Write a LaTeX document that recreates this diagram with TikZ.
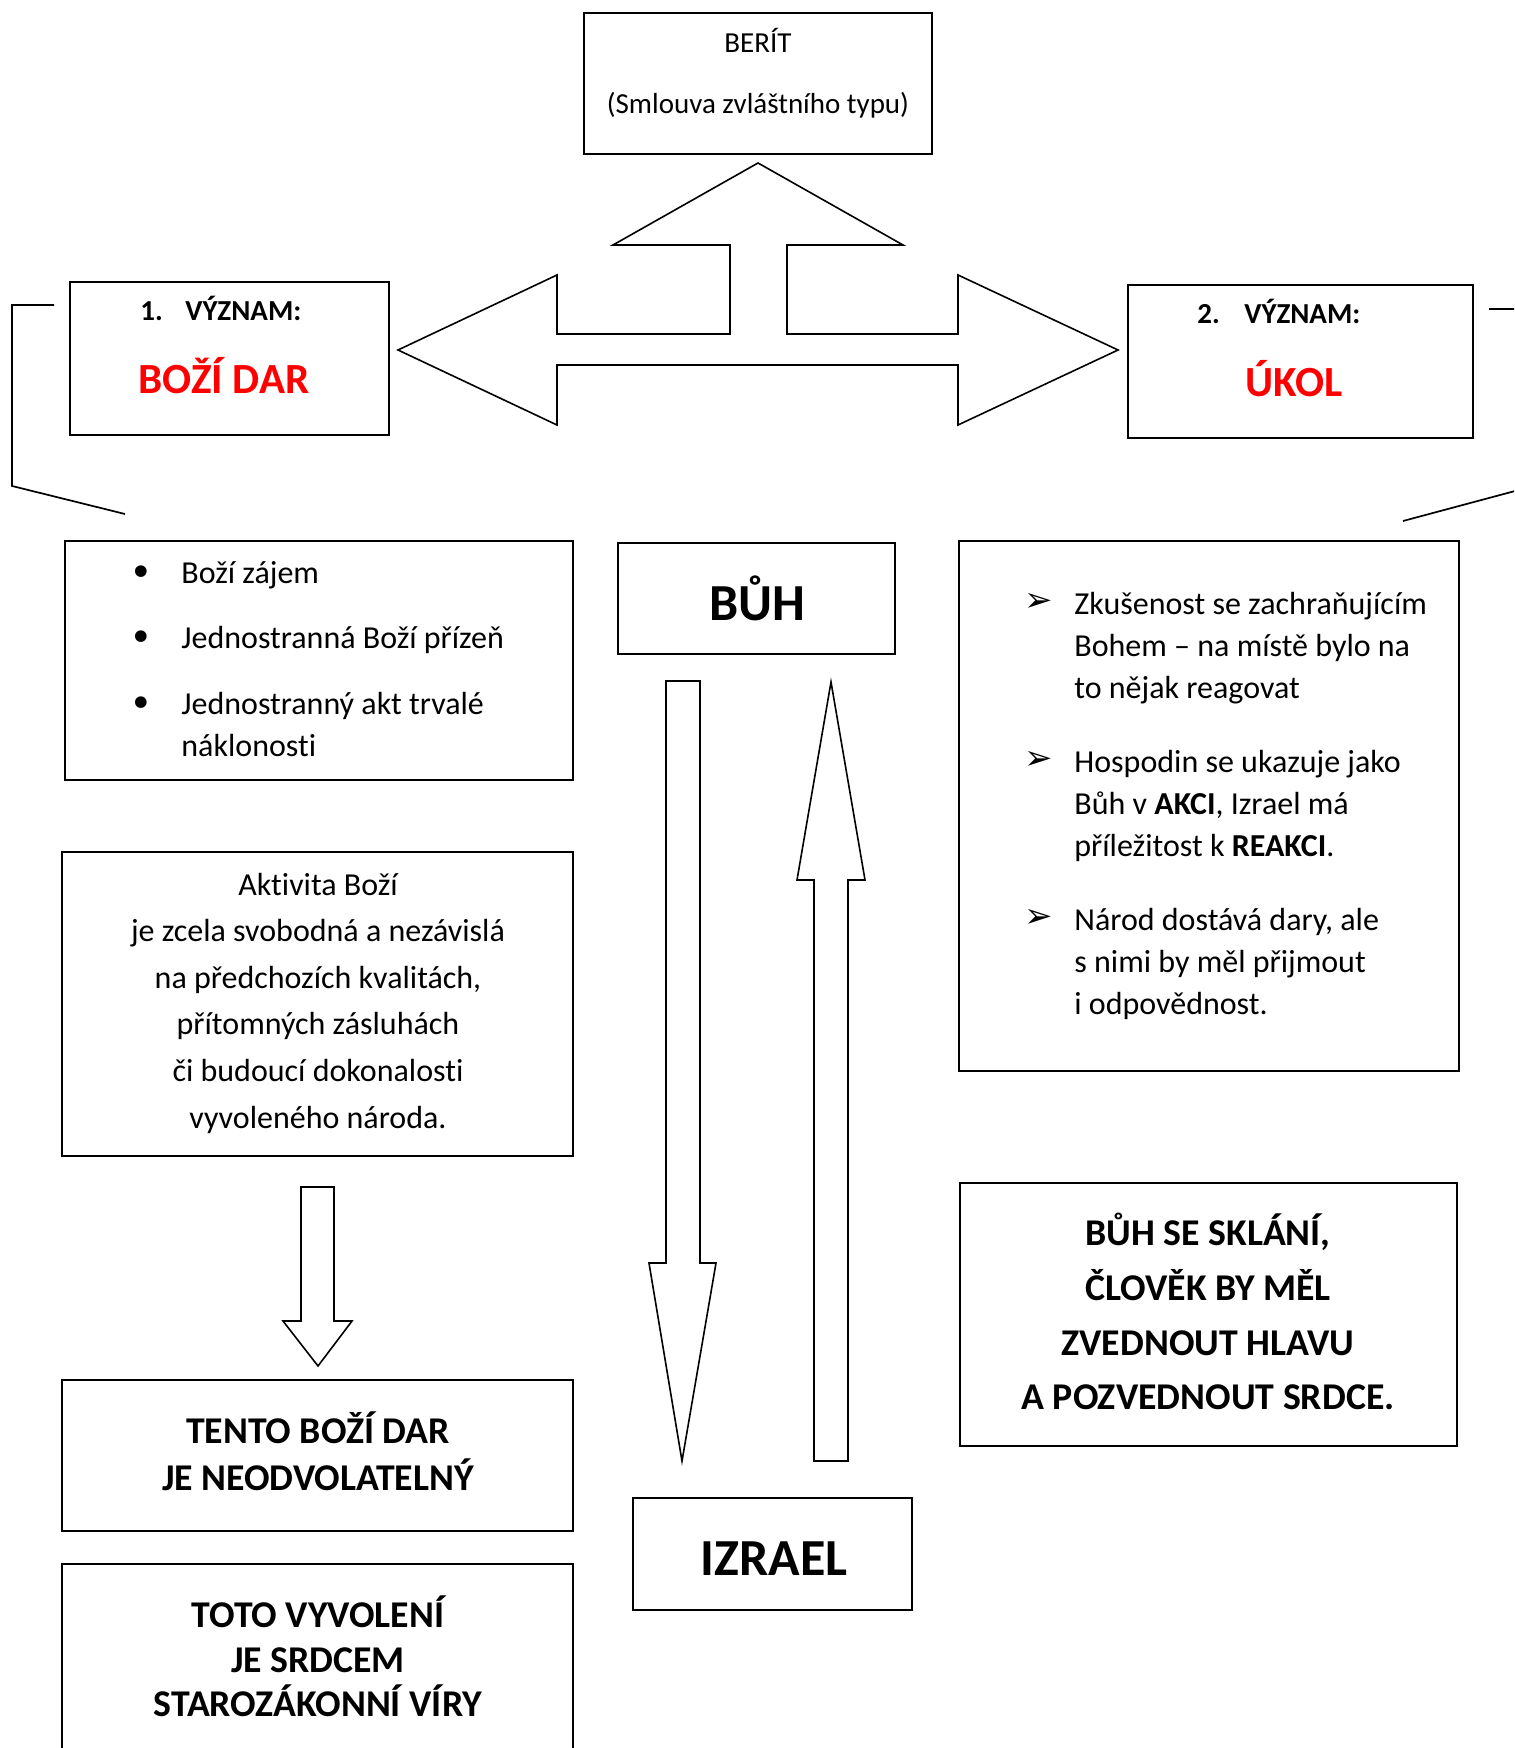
\documentclass[tikz,border=0pt]{standalone}
\usepackage{fontspec}
\setmainfont{Carlito}[Ligatures={NoCommon}]
\newfontfamily\symfont{DejaVu Sans}
\usetikzlibrary{positioning}

\tikzset{
  box/.style={draw, line width=1pt, inner sep=0pt},
  blockarrow/.style={draw, line width=0.8pt},
  bracket/.style={draw, line width=0.85pt},
  txt/.style={inner sep=0pt, font=\fontsize{16}{21}\selectfont},
  smalltxt/.style={inner sep=0pt, font=\fontsize{14.5}{17}\selectfont},
  headtxt/.style={inner sep=0pt, font=\fontsize{14.5}{17}\selectfont\bfseries},
  redtxt/.style={inner sep=0pt, text=red, font=\fontsize{21.5}{25}\selectfont\bfseries},
  capstxt/.style={inner sep=0pt, font=\fontsize{18.9}{22}\selectfont\bfseries},
  nametxt/.style={inner sep=0pt, font=\fontsize{26}{30}\selectfont\bfseries},
}

\begin{document}
\begin{tikzpicture}[x=0.5pt, y=-0.5pt]
  \useasboundingbox (0,0) rectangle (1514,1748);
  \clip (0,0) rectangle (1514,1748);

  % berit
  \node[box, minimum width=174pt, minimum height=70.5pt] (berit) at (758,83.5) {};
  \node[smalltxt, anchor=base] (beritName) at (758,53) {BERÍT};
  \node[smalltxt, anchor=base] (beritSub) at (758,114) {(Smlouva zvláštního typu)};

  % the two meanings
  \node[box, minimum width=159.5pt, minimum height=76.5pt] (vyznam1) at (229.5,358.5) {};
  \node[headtxt, anchor=base west] (vyznam1Head) at (140,321) {\makebox[22.5pt][l]{1.}VÝZNAM:};
  \node[redtxt, anchor=base] (dar) at (224,394) {BOŽÍ DAR};

  \node[box, minimum width=172.5pt, minimum height=76.5pt] (vyznam2) at (1300.5,361.5) {};
  \node[headtxt, anchor=base west] (vyznam2Head) at (1197,324) {\makebox[23.5pt][l]{2.}VÝZNAM:};
  \node[redtxt, anchor=base] (ukol) at (1294,397) {ÚKOL};

  % three-way arrow
  \draw[blockarrow] (398,350) -- (557,275) -- (557,334) -- (730,334) -- (730,245)
    -- (613,245) -- (758,163) -- (903,245) -- (787,245) -- (787,334) -- (958,334)
    -- (958,275) -- (1118,350) -- (958,425) -- (958,365) -- (557,365) -- (557,425) -- cycle;

  % brackets
  \draw[bracket] (54,305) -- (12,305) -- (12,486) -- (125,514);
  \draw[bracket] (1489,309) -- (1530,309) -- (1530,487) -- (1403,521);

  % god and israel
  \node[box, minimum width=138.5pt, minimum height=55.5pt] (buh) at (756.5,598.5) {};
  \node[nametxt, anchor=base] (buhName) at (757,620) {BŮH};
  \node[box, minimum width=139.5pt, minimum height=56pt] (izrael) at (772.5,1554) {};
  \node[nametxt, anchor=base] (izraelName) at (774,1575) {IZRAEL};

  \draw[blockarrow] (666,681) -- (700,681) -- (700,1263) -- (716,1263) -- (682,1461)
    -- (649,1263) -- (666,1263) -- cycle;
  \draw[blockarrow] (831,682) -- (865,880) -- (848,880) -- (848,1461) -- (814,1461)
    -- (814,880) -- (797,880) -- cycle;

  % left column
  \node[box, minimum width=254pt, minimum height=119.5pt] (darList) at (319,660.5) {};
  \foreach \y [count=\i] in {576.3,641.3,707.3}
    \node[inner sep=0pt, font=\fontsize{20}{20}\selectfont\symfont] (darBullet\i) at (141,\y) {•};
  \foreach \y/\t [count=\i] in {583/Boží zájem, 648/Jednostranná Boží přízeň,
      714/Jednostranný akt trvalé, 756/náklonosti}
    \node[txt, anchor=base west] (darLine\i) at (181,\y) {\t};

  \node[box, minimum width=255.5pt, minimum height=152pt] (aktivita) at (317.5,1004) {};
  \foreach \y/\t [count=\i] in {895/Aktivita Boží, 941.6/je zcela svobodná a nezávislá,
      988.2/{na předchozích kvalitách,}, 1034.8/přítomných zásluhách,
      1081.4/či budoucí dokonalosti, 1128/vyvoleného národa.}
    \node[txt, anchor=base] (aktivitaLine\i) at (318,\y) {\t};

  \draw[blockarrow] (301,1187) -- (334,1187) -- (334,1321) -- (352,1321) -- (318,1366)
    -- (283,1321) -- (301,1321) -- cycle;

  \node[box, minimum width=255.5pt, minimum height=75.5pt] (tento) at (317.5,1455.5) {};
  \node[capstxt, anchor=base] (tentoLine1) at (318,1443) {TENTO BOŽÍ DAR};
  \node[capstxt, anchor=base] (tentoLine2) at (318,1490) {JE NEODVOLATELNÝ};

  \node[box, minimum width=255.5pt, minimum height=97pt] (toto) at (317.5,1660.5) {};
  \node[capstxt, anchor=base] (totoLine1) at (318,1627) {TOTO VYVOLENÍ};
  \node[capstxt, anchor=base] (totoLine2) at (318,1672) {JE SRDCEM};
  \node[capstxt, anchor=base] (totoLine3) at (318,1716) {STAROZÁKONNÍ VÍRY};

  % right column
  \node[box, minimum width=250pt, minimum height=265pt] (ukolList) at (1209,806) {};
  \foreach \y [count=\i] in {602.5,760.5,918.5}
    \node[inner sep=0pt, font=\fontsize{17}{17}\selectfont\symfont] (ukolArrow\i) at (1039,\y) {➢};
  \foreach \y/\t [count=\i] in {614/Zkušenost se zachraňujícím, 656/Bohem – na místě bylo na,
      698/to nějak reagovat, 772/Hospodin se ukazuje jako,
      814/{Bůh v \textbf{AKCI}, Izrael má}, 856/příležitost k \textbf{REAKCI}.,
      930/{Národ dostává dary, ale}, 972/s nimi by měl přijmout, 1014/i odpovědnost.}
    \node[txt, anchor=base west] (ukolLine\i) at (1074,\y) {\t};

  \node[box, minimum width=248.5pt, minimum height=131.5pt] (sklani) at (1208.5,1314.5) {};
  \node[capstxt, anchor=base] (sklaniLine1) at (1208,1245) {BŮH SE SKLÁNÍ,};
  \node[capstxt, anchor=base] (sklaniLine2) at (1208,1300) {ČLOVĚK BY MĚL};
  \node[capstxt, anchor=base] (sklaniLine3) at (1208,1355) {ZVEDNOUT HLAVU};
  \node[capstxt, anchor=base] (sklaniLine4) at (1208,1409) {A POZVEDNOUT SRDCE.};
\end{tikzpicture}
\end{document}
